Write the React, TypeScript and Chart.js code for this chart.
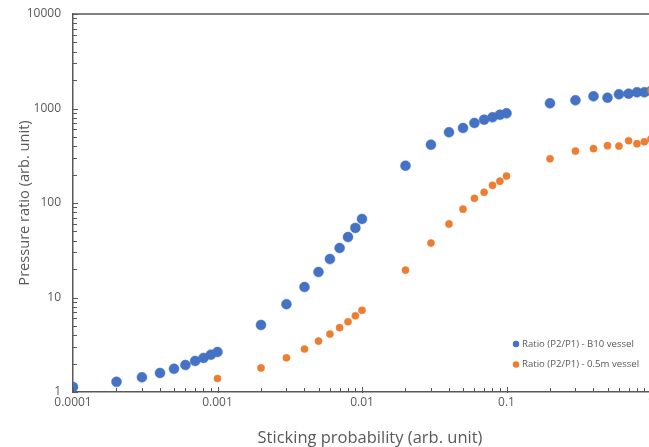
import React, { useEffect, useRef } from "react";
import { Chart, registerables } from "chart.js";

Chart.register(...registerables);

const xTickValues = [0.0001, 0.001, 0.01, 0.1, 1];
const yTickValues = [1, 10, 100, 1000, 10000];

const b10X = [
  0.0001, 0.0002, 0.0003, 0.0004, 0.0005, 0.0006, 0.0007, 0.0008, 0.0009, 0.001,
  0.002, 0.003, 0.004, 0.005, 0.006, 0.007, 0.008, 0.009, 0.01,
  0.02, 0.03, 0.04, 0.05, 0.06, 0.07, 0.08, 0.09, 0.1,
  0.2, 0.3, 0.4, 0.5, 0.6, 0.7, 0.8, 0.9, 1,
];
const b10Y = [
  1.13, 1.28, 1.43, 1.59, 1.76, 1.93, 2.13, 2.29, 2.48, 2.65,
  5.12, 8.5, 12.9, 18.6, 25.5, 33.4, 43.6, 54.5, 67.8,
  248, 414, 560, 622, 703, 762, 807, 859, 889,
  1135, 1222, 1346, 1301, 1413, 1435, 1483, 1483, 1530,
];

const m05X = [
  0.001,
  0.002, 0.003, 0.004, 0.005, 0.006, 0.007, 0.008, 0.009, 0.01,
  0.02, 0.03, 0.04, 0.05, 0.06, 0.07, 0.08, 0.09, 0.1,
  0.2, 0.3, 0.4, 0.5, 0.6, 0.7, 0.8, 0.9, 1, 1,
];
const m05Y = [
  1.39,
  1.8, 2.3, 2.85, 3.46, 4.11, 4.79, 5.54, 6.41, 7.33,
  19.5, 37.7, 60, 86, 112, 130, 154, 170, 193,
  294, 355, 376, 404, 401, 456, 424, 445, 476, 1550,
];

const seriesLabels = ["Ratio (P2/P1) - B10 vessel", "Ratio (P2/P1) - 0.5m vessel"];
const seriesColors = ["#4472C4", "#ED7D31"];
const xTitle = "Sticking probability (arb. unit)";
const yTitle = "Pressure ratio (arb. unit)";

const AXIS = "#595959";
const TEXT = "#595959";
const FONT = "'Open Sans', 'DejaVu Sans', sans-serif";

const decorPlugin = {
  id: "decor",
  afterDraw(chart: any) {
    const { ctx, chartArea, scales } = chart;
    const xs = scales.x;
    const ys = scales.y;
    ctx.save();
    ctx.strokeStyle = AXIS;
    ctx.lineWidth = 1.5;
    ctx.beginPath();
    ctx.moveTo(chartArea.left, chartArea.top);
    ctx.lineTo(chartArea.right, chartArea.top);
    ctx.stroke();

    ctx.lineWidth = 1;
    ctx.beginPath();
    for (let i = 0; i < xTickValues.length; i++) {
      const d = xTickValues[i];
      const px = Math.round(xs.getPixelForValue(d)) + 0.5;
      ctx.moveTo(px, chartArea.bottom + 1);
      ctx.lineTo(px, chartArea.bottom - 5);
      if (i < xTickValues.length - 1) {
        for (let k = 2; k <= 9; k++) {
          const p = Math.round(xs.getPixelForValue(d * k)) + 0.5;
          ctx.moveTo(p, chartArea.bottom);
          ctx.lineTo(p, chartArea.bottom - 4);
        }
      }
    }
    for (let i = 0; i < yTickValues.length; i++) {
      const d = yTickValues[i];
      const py = Math.round(ys.getPixelForValue(d)) + 0.5;
      ctx.moveTo(chartArea.left - 1, py);
      ctx.lineTo(chartArea.left + 5, py);
      if (i < yTickValues.length - 1) {
        for (let k = 2; k <= 9; k++) {
          const p = Math.round(ys.getPixelForValue(d * k)) + 0.5;
          ctx.moveTo(chartArea.left, p);
          ctx.lineTo(chartArea.left + 4, p);
        }
      }
    }
    ctx.stroke();

    // axis titles
    ctx.fillStyle = TEXT;
    ctx.textBaseline = "alphabetic";
    ctx.textAlign = "center";
    ctx.font = `16.5px ${FONT}`;
    ctx.fillText(xTitle, chartArea.left + 297, 443);
    ctx.save();
    ctx.translate(28.5, (chartArea.top + chartArea.bottom) / 2);
    ctx.rotate(-Math.PI / 2);
    ctx.font = `14.6px ${FONT}`;
    ctx.fillText(yTitle, 0, 0);
    ctx.restore();

    // legend
    const lx = chartArea.right - 135;
    const ly = chartArea.bottom - 48;
    ctx.font = `9.6px ${FONT}`;
    ctx.textBaseline = "middle";
    ctx.textAlign = "left";
    seriesLabels.forEach((lab, i) => {
      const y = ly + i * 20.5;
      ctx.fillStyle = seriesColors[i];
      ctx.beginPath();
      ctx.arc(lx, y, 3.2, 0, Math.PI * 2);
      ctx.fill();
      ctx.fillStyle = TEXT;
      ctx.fillText(lab, lx + 6, y);
    });
    ctx.restore();
  },
};

export default function App() {
  const ref = useRef<HTMLCanvasElement | null>(null);
  useEffect(() => {
    if (!ref.current) return;
    const chart = new Chart(ref.current, {
      type: "scatter",
      data: {
        datasets: [
          {
            label: seriesLabels[0],
            data: b10X.map((x, i) => ({ x, y: b10Y[i] })),
            backgroundColor: seriesColors[0],
            borderColor: seriesColors[0],
            pointRadius: 5,
            borderWidth: 0.5,
            order: 2,
          },
          {
            label: seriesLabels[1],
            data: m05X.map((x, i) => ({ x, y: m05Y[i] })),
            backgroundColor: seriesColors[1],
            borderColor: seriesColors[1],
            pointRadius: 3.6,
            borderWidth: 0.5,
            order: 1,
          },
        ],
      },
      options: {
        responsive: false,
        animation: false,
        devicePixelRatio: 1,
        layout: { padding: { left: 0, right: 29, top: 14, bottom: 0 } },
        plugins: { legend: { display: false }, tooltip: { enabled: false } },
        scales: {
          x: {
            type: "logarithmic",
            min: 0.0001,
            max: 1,
            afterBuildTicks: (s: any) => {
              s.ticks = xTickValues.map((v) => ({ value: v }));
            },
            afterFit: (s: any) => {
              s.height = 55;
              s.paddingLeft = 0;
              s.paddingRight = 0;
              s.paddingTop = 0;
              s.paddingBottom = 0;
            },
            grid: { display: false, drawTicks: false },
            border: { display: true, color: AXIS, width: 1.5 },
            ticks: {
              color: TEXT,
              font: { family: FONT, size: 12 },
              padding: 3,
              maxRotation: 0,
              autoSkip: false,
              callback: (v: any) => String(v),
            },
          },
          y: {
            type: "logarithmic",
            min: 1,
            max: 10000,
            afterBuildTicks: (s: any) => {
              s.ticks = yTickValues.map((v) => ({ value: v }));
            },
            afterFit: (s: any) => {
              s.width = 73;
              s.paddingLeft = 0;
              s.paddingRight = 0;
              s.paddingTop = 0;
              s.paddingBottom = 0;
            },
            grid: { display: false, drawTicks: false },
            border: { display: true, color: AXIS, width: 1.5 },
            ticks: {
              color: TEXT,
              font: { family: FONT, size: 12 },
              padding: 12,
              autoSkip: false,
              callback: (v: any) => String(v),
            },
          },
        },
      },
      plugins: [decorPlugin],
    });
    return () => chart.destroy();
  }, []);
  return (
    <div
      style={{
        position: "fixed",
        left: 0,
        top: 0,
        width: 649,
        height: 447,
        overflow: "hidden",
        background: "#fff",
      }}
    >
      <canvas ref={ref} width={680} height={447} style={{ display: "block" }} />
    </div>
  );
}
